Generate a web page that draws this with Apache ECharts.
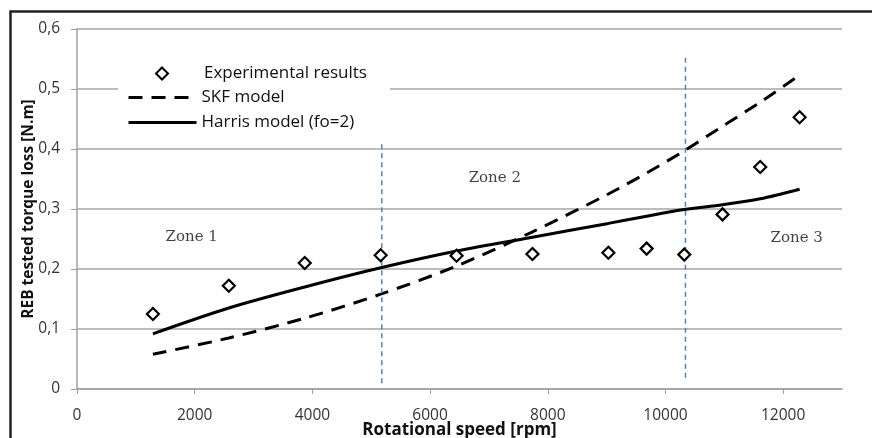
<!DOCTYPE html>
<html>
<head>
<meta charset="utf-8">
<script src="https://cdn.jsdelivr.net/npm/echarts@6/dist/echarts.min.js"></script>
<style>
	html, body { margin: 0; padding: 0; background: #fff; }
	#main { width: 872px; height: 438px; }
</style>
</head>
<body>
<div id="main"></div>
<script>
// rotational speed [rpm] of the test points
let speeds = [1290, 2580, 3870, 5160, 6450, 7740, 9030, 9680, 10320, 10970, 11610, 12280];
let experimental = [0.125, 0.172, 0.21, 0.223, 0.222, 0.225, 0.227, 0.234, 0.224, 0.291, 0.37, 0.453];
let skfModel = [0.058, 0.085, 0.118, 0.158, 0.205, 0.262, 0.325, 0.36, 0.397, 0.438, 0.478, 0.523];
let harrisModel = [0.092, 0.135, 0.17, 0.202, 0.23, 0.253, 0.276, 0.288, 0.299, 0.307, 0.317, 0.333];

// zone limits (vertical blue dashed lines): [speed, top, bottom]
let zoneLimits = [
	[5180, 0.408, 0.005],
	[10340, 0.552, 0.015],
];
let zones = [
	{ name: "Zone 1", x: 1950, y: 0.253 },
	{ name: "Zone 2", x: 7100, y: 0.352 },
	{ name: "Zone 3", x: 12230, y: 0.251 },
];

const pairs = (ys) => speeds.map((s, i) => [s, ys[i]]);
const comma = (v) => (v === 0 ? "0" : v.toFixed(1).replace(".", ","));

let series = [
	{
		name: "SKF model",
		type: "line",
		data: pairs(skfModel),
		symbol: "none",
		smooth: 0.3,
		itemStyle: { color: "rgba(0,0,0,0)", borderWidth: 0 },
		lineStyle: { color: "#000", width: 3, type: [14, 9] },
		z: 3,
	},
	{
		name: "Harris model (fo=2)",
		type: "line",
		data: pairs(harrisModel),
		symbol: "none",
		smooth: 0.3,
		itemStyle: { color: "rgba(0,0,0,0)", borderWidth: 0 },
		lineStyle: { color: "#000", width: 3 },
		z: 3,
	},
];

zoneLimits.forEach((z) => {
	series.push({
		type: "line",
		data: [[z[0], z[1]], [z[0], z[2]]],
		symbol: "none",
		silent: true,
		lineStyle: { color: "#4f81bd", width: 1.5, type: [5, 4] },
		z: 4,
	});
});

series.push({
	name: "Experimental results",
	type: "scatter",
	data: pairs(experimental),
	symbol: "diamond",
	symbolSize: 12,
	itemStyle: { color: "#fff", borderColor: "#000", borderWidth: 2.2, opacity: 1 },
	z: 5,
});

series.push({
	type: "scatter",
	data: zones.map((z) => ({ value: [z.x, z.y], name: z.name })),
	symbolSize: 0,
	silent: true,
	label: {
		show: true,
		position: "inside",
		formatter: (p) => p.name,
		fontFamily: "DejaVu Serif",
		fontSize: 15,
		color: "#111",
	},
	z: 6,
});

const legendText = { fontFamily: "Open Sans", fontSize: 17, color: "#111" };

let chart = echarts.init(document.getElementById("main"));

chart.setOption({
	animation: false,
	backgroundColor: "#fff",
	grid: { left: 77, right: 30, top: 29, bottom: 49, outerBoundsMode: "none" },
	legend: [
		{
			// white box behind the legend, hiding the 0,5 grid line
			left: 118,
			top: 60,
			itemWidth: 0,
			itemHeight: 0,
			selectedMode: false,
			data: [],
			backgroundColor: "#fff",
			padding: [0, 272, 70, 0],
		},
		{
			left: 150,
			top: 60,
			itemWidth: 12,
			itemHeight: 12,
			selectedMode: false,
			data: ["Experimental results"],
			formatter: (n) => "{s|}" + n,
			textStyle: Object.assign({ rich: { s: { width: 31 } } }, legendText),
		},
		{
			orient: "vertical",
			left: 122,
			top: 84,
			itemWidth: 68,
			itemHeight: 13,
			itemGap: 8,
			selectedMode: false,
			lineStyle: { width: 3 },
			data: ["SKF model", "Harris model (fo=2)"],
			textStyle: legendText,
		},
	],
	xAxis: {
		type: "value",
		min: 0,
		max: 13000,
		interval: 2000,
		name: "Rotational speed [rpm]",
		nameLocation: "middle",
		nameGap: 33,
		nameMoveOverlap: false,
		nameTextStyle: { fontFamily: "Open Sans", fontWeight: "bold", fontSize: 17, color: "#111" },
		axisLine: { lineStyle: { color: "#a0a0a0", width: 1.5 } },
		axisTick: { show: true, length: 5, lineStyle: { color: "#a0a0a0" } },
		axisLabel: {
			showMaxLabel: false,
			margin: 19,
			formatter: (v) => String(v),
			fontFamily: "Open Sans",
			fontSize: 15.5,
			color: "#333",
		},
		splitLine: { show: false },
	},
	yAxis: {
		type: "value",
		min: 0,
		max: 0.6,
		interval: 0.1,
		name: "REB tested torque loss [N.m]",
		nameLocation: "middle",
		nameGap: 40,
		nameMoveOverlap: false,
		nameTextStyle: { fontFamily: "Open Sans", fontWeight: "bold", fontSize: 15.5, color: "#111" },
		axisLine: { show: true, lineStyle: { color: "#a0a0a0", width: 1.5 } },
		axisTick: { show: true, length: 6, lineStyle: { color: "#a0a0a0" } },
		axisLabel: { margin: 17, formatter: comma, fontFamily: "Open Sans", fontSize: 15.5, color: "#333" },
		splitLine: { show: true, lineStyle: { color: "#a6a6a6", width: 1.5 } },
	},
	graphic: [
		{
			type: "rect",
			left: 8,
			top: 9,
			shape: { width: 900, height: 500 },
			style: { fill: "none", stroke: "#222", lineWidth: 2.5 },
			silent: true,
		},
	],
	series: series,
});
</script>
</body>
</html>
